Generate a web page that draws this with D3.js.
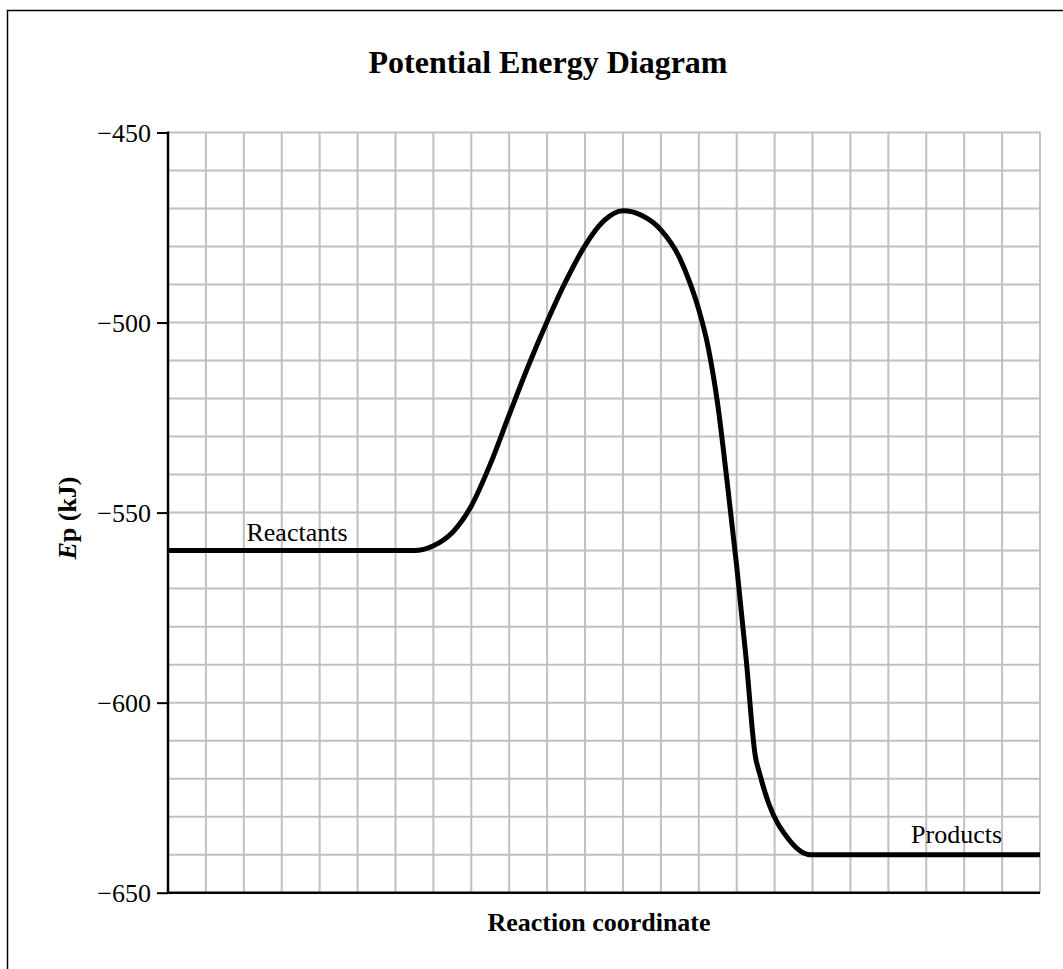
<!DOCTYPE html>
<html>
<head>
<meta charset="utf-8">
<script src="https://cdn.jsdelivr.net/npm/d3@7"></script>
<style>
  body { margin: 0; background: #fff; }
  svg { display: block; font-family: "Liberation Serif", "Times New Roman", serif; }
</style>
</head>
<body>
<svg id="chart" width="1063" height="969"></svg>
<script>
// reaction coordinate (grid units) and potential energy (kJ)
var coord = [0, 6.5, 7.0, 7.5, 8.0, 8.5, 9.0, 9.5, 10.0, 10.5, 11.0, 11.5, 12.0,
             12.5, 13.0, 13.5, 13.75, 14.0, 14.25, 14.5, 14.75, 15.0, 15.25, 15.49,
             15.6, 15.84, 16.33, 16.95, 23];
var energy = [-560, -560, -558.75, -555.25, -548.25, -537.25, -524.25, -511.5, -499.75, -489, -479.75, -473.2, -470.6,
              -471.85, -475.6, -483.1, -489.1, -496.6, -506.6, -521.6, -542.1, -564.1, -588.6, -614,
              -618.5, -626.4, -635.4, -640, -640];
var yTicks = [-450, -500, -550, -600, -650];
var labels = [{text: "Reactants", x: 2.07, y: -557.5}, {text: "Products", x: 19.6, y: -637}];

var svg = d3.select("#chart");
var plotL = 168, plotR = 1040, plotT = 132.5, plotB = 892.7;

var x = d3.scaleLinear().domain([0, 23]).range([plotL, plotR]);
var y = d3.scaleLinear().domain([-650, -450]).range([plotB, plotT]);

// outer frame (runs off the picture at right/bottom)
svg.append("rect").attr("x", 7.5).attr("y", 10.5).attr("width", 1100).attr("height", 1000)
  .attr("fill", "none").attr("stroke", "#000").attr("stroke-width", 1.5);

// grid
var grid = svg.append("g").attr("class", "grid");
grid.selectAll("line.v").data(d3.range(1, 24)).enter().append("line")
  .attr("x1", function(d){ return x(d); }).attr("x2", function(d){ return x(d); })
  .attr("y1", plotT).attr("y2", plotB)
  .attr("stroke", "#c0c0c0").attr("stroke-width", 2);
grid.selectAll("line.h").data(d3.range(-640, -449, 10)).enter().append("line")
  .attr("x1", plotL).attr("x2", plotR)
  .attr("y1", function(d){ return y(d); }).attr("y2", function(d){ return y(d); })
  .attr("stroke", "#c0c0c0").attr("stroke-width", 2);

// y axis
var yAxis = svg.append("g").attr("transform", "translate(" + plotL + ",0)")
  .call(d3.axisLeft(y).tickValues(yTicks).tickSize(11).tickPadding(6));
yAxis.select(".domain").remove();
yAxis.selectAll(".tick line").attr("stroke", "#000").attr("stroke-width", 2);
yAxis.selectAll(".tick text").attr("font-size", 26).attr("font-family", "Liberation Serif")
  .attr("fill", "#000").attr("dy", "0.35em");

svg.append("line").attr("x1", plotL).attr("x2", plotL).attr("y1", plotT - 1).attr("y2", plotB + 1.2)
  .attr("stroke", "#000").attr("stroke-width", 2.5);
svg.append("line").attr("x1", plotL).attr("x2", plotR).attr("y1", plotB).attr("y2", plotB)
  .attr("stroke", "#000").attr("stroke-width", 2.5);

// energy curve
var line = d3.line()
  .x(function(d){ return x(d[0]); })
  .y(function(d){ return y(d[1]); })
  .curve(d3.curveMonotoneX);
svg.append("path").datum(d3.zip(coord, energy))
  .attr("d", line).attr("fill", "none").attr("stroke", "#000").attr("stroke-width", 5)
  .attr("stroke-linejoin", "round");

// labels on the curve
svg.selectAll("text.lbl").data(labels).enter().append("text")
  .attr("class", "lbl")
  .attr("x", function(d){ return x(d.x); }).attr("y", function(d){ return y(d.y); })
  .attr("font-size", 26).text(function(d){ return d.text; });

// titles
svg.append("text").attr("x", 548).attr("y", 73).attr("text-anchor", "middle")
  .attr("font-size", 32).attr("font-weight", "bold").text("Potential Energy Diagram");
svg.append("text").attr("x", 599).attr("y", 931).attr("text-anchor", "middle")
  .attr("font-size", 26).attr("font-weight", "bold").text("Reaction coordinate");

var yl = svg.append("text").attr("transform", "translate(76,518) rotate(-90)")
  .attr("text-anchor", "middle").attr("font-size", 26).attr("font-weight", "bold");
yl.append("tspan").attr("font-style", "italic").text("E");
yl.append("tspan").text("p (kJ)");
</script>
</body>
</html>
